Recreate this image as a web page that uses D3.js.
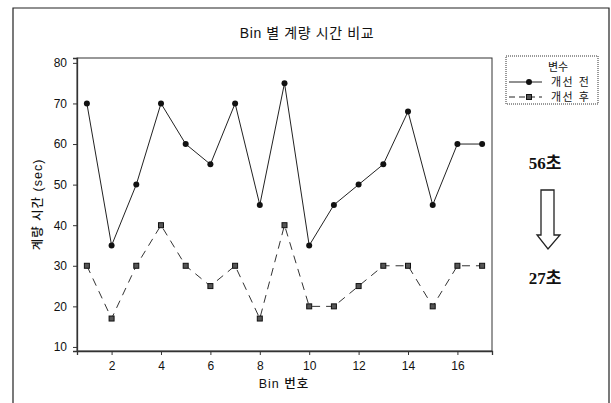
<!DOCTYPE html>
<html lang="ko">
<head>
<meta charset="UTF-8">
<title>Bin 별 계량 시간 비교</title>
<script src="https://d3js.org/d3.v7.min.js"></script>
<style>
  body { margin: 0; background: #fff; }
  text { font-family: "Liberation Sans", "Noto Sans CJK KR", sans-serif; fill: #111; }
</style>
</head>
<body>
<svg id="chart"></svg>
<script>
// data
const bins = [1, 2, 3, 4, 5, 6, 7, 8, 9, 10, 11, 12, 13, 14, 15, 16, 17];
const before = [70, 35, 50, 70, 60, 55, 70, 45, 75, 35, 45, 50, 55, 68, 45, 60, 60];
const after = [30, 17, 30, 40, 30, 25, 30, 17, 40, 20, 20, 25, 30, 30, 20, 30, 30];
const xTicks = [2, 4, 6, 8, 10, 12, 14, 16];
const yTicks = [10, 20, 30, 40, 50, 60, 70, 80];
const seriesNames = ["개선 전", "개선 후"];
const avgLabels = ["56초", "27초"];

const W = 611, H = 403;
const plot = { left: 77, top: 58, right: 492, bottom: 351 };

const svg = d3.select("#chart").attr("width", W).attr("height", H);

// outer frame (bottom is cut off in the original)
svg.append("path")
  .attr("d", `M13,${H} L13,8 L609,8 L609,${H}`)
  .attr("fill", "none").attr("stroke", "#222").attr("stroke-width", 1.2);

const x = d3.scaleLinear().domain([0.6, 17.4]).range([plot.left, plot.right]);
const y = d3.scaleLinear().domain([9, 81.2]).range([plot.bottom, plot.top]);

// plot box
svg.append("rect")
  .attr("x", plot.left).attr("y", plot.top)
  .attr("width", plot.right - plot.left).attr("height", plot.bottom - plot.top)
  .attr("fill", "none").attr("stroke", "#333").attr("stroke-width", 1);

// axes
const xAxis = svg.append("g")
  .attr("transform", `translate(0,${plot.bottom})`)
  .call(d3.axisBottom(x).tickValues(xTicks).tickSize(4).tickPadding(6));
const yAxis = svg.append("g")
  .attr("transform", `translate(${plot.left},0)`)
  .call(d3.axisLeft(y).tickValues(yTicks).tickSize(4).tickPadding(6));
[xAxis, yAxis].forEach(g => {
  g.select(".domain").attr("stroke", "#333").attr("stroke-width", 1.3);
  g.selectAll(".tick line").attr("stroke", "#333");
  g.selectAll(".tick text").attr("font-size", 12).attr("fill", "#111")
    .style("font-family", "'Liberation Sans', sans-serif");
});

// title and axis titles
svg.append("text").attr("x", 307).attr("y", 38).attr("text-anchor", "middle")
  .attr("font-size", 14).attr("letter-spacing", 0.6).text("Bin 별 계량 시간 비교");
svg.append("text").attr("x", 284).attr("y", 388).attr("text-anchor", "middle")
  .attr("font-size", 12.5).attr("font-weight", 500).attr("letter-spacing", 1)
  .text("Bin 번호");
svg.append("text")
  .attr("transform", `translate(42,${(plot.top + plot.bottom) / 2}) rotate(-90)`)
  .attr("text-anchor", "middle").attr("font-size", 12.5).attr("font-weight", 500)
  .attr("letter-spacing", 1).text("계량 시간 (sec)");

// lines
const line = d3.line().x((d, i) => x(bins[i])).y(d => y(d));
svg.append("path").datum(before).attr("d", line)
  .attr("fill", "none").attr("stroke", "#222").attr("stroke-width", 1);
svg.append("path").datum(after).attr("d", line)
  .attr("fill", "none").attr("stroke", "#333").attr("stroke-width", 1)
  .attr("stroke-dasharray", "8,6");

// markers
svg.append("g").selectAll("circle").data(before).join("circle")
  .attr("cx", (d, i) => x(bins[i])).attr("cy", d => y(d)).attr("r", 3)
  .attr("fill", "#111");
svg.append("g").selectAll("rect").data(after).join("rect")
  .attr("x", (d, i) => x(bins[i]) - 2.5).attr("y", d => y(d) - 2.5)
  .attr("width", 5).attr("height", 5)
  .attr("fill", "#555").attr("stroke", "#111").attr("stroke-width", 1);

// legend
const lg = svg.append("g");
lg.append("rect").attr("x", 506).attr("y", 56).attr("width", 92).attr("height", 48)
  .attr("fill", "none").attr("stroke", "#333").attr("stroke-dasharray", "1,1");
lg.append("text").attr("x", 558).attr("y", 71).attr("text-anchor", "middle")
  .attr("font-size", 11).text("변수");
seriesNames.forEach((name, i) => {
  const ly = 82 + i * 15;
  lg.append("line").attr("x1", 509).attr("x2", 542).attr("y1", ly).attr("y2", ly)
    .attr("stroke", "#222").attr("stroke-dasharray", i ? "6,4" : null);
  if (i === 0) {
    lg.append("circle").attr("cx", 529).attr("cy", ly).attr("r", 3).attr("fill", "#111");
  } else {
    lg.append("rect").attr("x", 526.5).attr("y", ly - 2.5).attr("width", 5).attr("height", 5)
      .attr("fill", "#555").attr("stroke", "#111");
  }
  lg.append("text").attr("x", 551).attr("y", ly + 4).attr("font-size", 11)
    .attr("letter-spacing", 1.5).text(name);
});

// average annotation with hollow arrow
svg.append("text").attr("x", 545).attr("y", 169).attr("text-anchor", "middle")
  .attr("font-size", 17).attr("font-weight", "bold")
  .style("font-family", "'Liberation Serif', 'Noto Sans CJK KR', serif")
  .text(avgLabels[0]);
svg.append("path")
  .attr("d", "M541,190 L554,190 L554,235 L560,235 L548,249 L537,235 L541,235 Z")
  .attr("fill", "#fff").attr("stroke", "#222").attr("stroke-width", 1.3);
svg.append("text").attr("x", 545).attr("y", 284).attr("text-anchor", "middle")
  .attr("font-size", 17).attr("font-weight", "bold")
  .style("font-family", "'Liberation Serif', 'Noto Sans CJK KR', serif")
  .text(avgLabels[1]);
</script>
</body>
</html>
